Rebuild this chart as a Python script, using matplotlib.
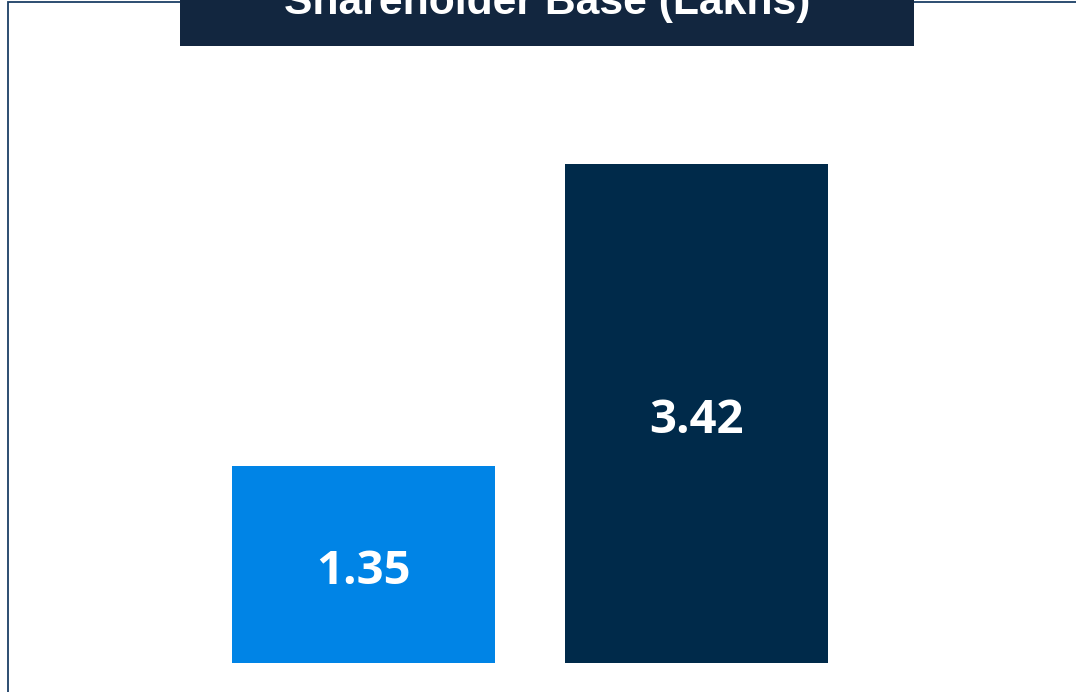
import matplotlib
matplotlib.use("Agg")
import matplotlib.pyplot as plt
from matplotlib.patches import Rectangle

# shareholder base, in lakhs
periods = ["Before", "After"]
values = [1.35, 3.42]
bar_colors = ["#0084e6", "#002a4a"]
title = "Shareholder Base (Lakhs)"

W, H = 1076, 692
fig = plt.figure(figsize=(W / 100, H / 100), dpi=100)

# plot area in pixels
left, right, bottom, top = 8, 1076, 663, 46
ax = fig.add_axes([left / W, (H - bottom) / H, (right - left) / W, (bottom - top) / H])

px_per_x = 333.0
px_per_y = 197.0 / 1.35
xmin = -(363.5 - left) / px_per_x
ax.set_xlim(xmin, xmin + (right - left) / px_per_x)
ax.set_ylim(0, (bottom - top) / px_per_y)

bars = ax.bar(range(len(values)), values, width=263 / px_per_x, color=bar_colors)
for i, v in enumerate(values):
    ax.annotate(f"{v:.2f}", (i, v / 2), xytext=(0, -5), textcoords="offset points",
                ha="center", va="center", color="white", fontsize=34,
                fontweight="bold", family="Open Sans")
ax.axis("off")

# thin outer frame, open at the bottom and right
frame = Rectangle((left / W, -0.1), 1.2, (H - 2) / H + 0.1, transform=fig.transFigure,
                  fill=False, edgecolor="#1b3f66", linewidth=1.3, zorder=0)
fig.add_artist(frame)

# title banner
banner = Rectangle((180 / W, (H - 46) / H), (914 - 180) / W, 46 / H + 0.01,
                   transform=fig.transFigure, facecolor="#12263f", edgecolor="none", zorder=2)
fig.add_artist(banner)
fig.text(547 / W, (H - 14) / H, title, ha="center", va="baseline", color="white",
         fontsize=30.7, fontweight="bold", family="Liberation Sans", zorder=3)

fig.savefig("out.png", dpi=100)
